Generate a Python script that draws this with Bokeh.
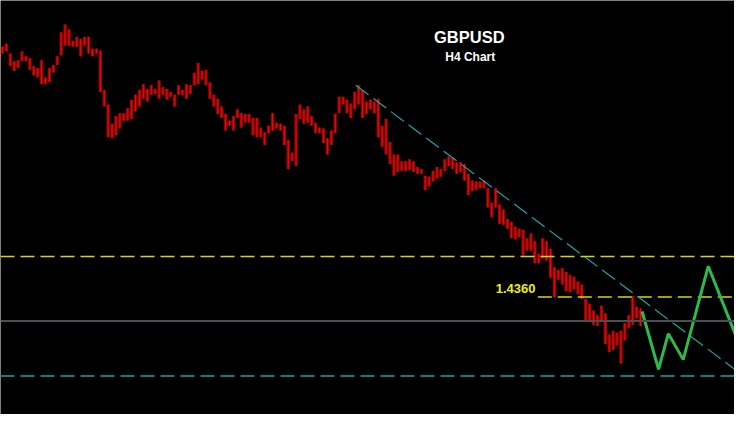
from bokeh.plotting import figure
from bokeh.models import Range1d, Label, ColumnDataSource, Span
from bokeh.embed import file_html
from bokeh.resources import INLINE

# GBPUSD H4 bars (high / low)
highs = [1.4620, 1.4623, 1.4613, 1.4605, 1.4606, 1.4615, 1.4610, 1.4608, 1.4600, 1.4598,
         1.4606, 1.4588, 1.4598, 1.4601, 1.4610, 1.4635, 1.4643, 1.4638, 1.4626, 1.4630,
         1.4628, 1.4630, 1.4630, 1.4618, 1.4618, 1.4616, 1.4575, 1.4560, 1.4540, 1.4548,
         1.4551, 1.4551, 1.4556, 1.4565, 1.4570, 1.4575, 1.4581, 1.4576, 1.4580, 1.4576,
         1.4585, 1.4578, 1.4576, 1.4573, 1.4570, 1.4580, 1.4575, 1.4581, 1.4580, 1.4593,
         1.4603, 1.4595, 1.4596, 1.4583, 1.4570, 1.4566, 1.4558, 1.4550, 1.4543, 1.4548,
         1.4555, 1.4551, 1.4550, 1.4550, 1.4546, 1.4546, 1.4536, 1.4531, 1.4538, 1.4551,
         1.4541, 1.4540, 1.4538, 1.4523, 1.4510, 1.4550, 1.4560, 1.4555, 1.4558, 1.4548,
         1.4541, 1.4536, 1.4535, 1.4525, 1.4533, 1.4550, 1.4568, 1.4568, 1.4565, 1.4561,
         1.4573, 1.4580, 1.4575, 1.4563, 1.4565, 1.4563, 1.4566, 1.4538, 1.4545, 1.4521,
         1.4508, 1.4508, 1.4501, 1.4501, 1.4503, 1.4501, 1.4495, 1.4493, 1.4486, 1.4485,
         1.4491, 1.4495, 1.4493, 1.4503, 1.4506, 1.4505, 1.4500, 1.4500, 1.4498, 1.4488,
         1.4481, 1.4480, 1.4480, 1.4481, 1.4473, 1.4458, 1.4473, 1.4456, 1.4451, 1.4441,
         1.4438, 1.4433, 1.4431, 1.4430, 1.4421, 1.4426, 1.4418, 1.4405, 1.4421, 1.4418,
         1.4410, 1.4391, 1.4388, 1.4390, 1.4386, 1.4383, 1.4381, 1.4376, 1.4373, 1.4358,
         1.4353, 1.4346, 1.4341, 1.4351, 1.4343, 1.4321, 1.4325, 1.4323, 1.4325, 1.4333,
         1.4341, 1.4361, 1.4350, 1.4348]
lows = [1.4613, 1.4615, 1.4600, 1.4595, 1.4598, 1.4605, 1.4605, 1.4596, 1.4590, 1.4588,
        1.4581, 1.4581, 1.4583, 1.4593, 1.4601, 1.4611, 1.4621, 1.4621, 1.4620, 1.4620,
        1.4610, 1.4621, 1.4613, 1.4610, 1.4613, 1.4573, 1.4558, 1.4526, 1.4525, 1.4528,
        1.4535, 1.4543, 1.4543, 1.4545, 1.4553, 1.4558, 1.4566, 1.4563, 1.4570, 1.4571,
        1.4566, 1.4570, 1.4565, 1.4568, 1.4558, 1.4570, 1.4570, 1.4566, 1.4571, 1.4580,
        1.4581, 1.4586, 1.4580, 1.4566, 1.4558, 1.4550, 1.4546, 1.4533, 1.4538, 1.4533,
        1.4546, 1.4536, 1.4541, 1.4541, 1.4528, 1.4526, 1.4526, 1.4518, 1.4530, 1.4533,
        1.4535, 1.4533, 1.4518, 1.4493, 1.4501, 1.4496, 1.4545, 1.4540, 1.4541, 1.4538,
        1.4530, 1.4530, 1.4520, 1.4508, 1.4518, 1.4530, 1.4551, 1.4560, 1.4551, 1.4546,
        1.4555, 1.4560, 1.4546, 1.4550, 1.4555, 1.4551, 1.4526, 1.4516, 1.4508, 1.4498,
        1.4486, 1.4490, 1.4491, 1.4491, 1.4492, 1.4490, 1.4488, 1.4488, 1.4471, 1.4475,
        1.4480, 1.4483, 1.4485, 1.4491, 1.4496, 1.4493, 1.4488, 1.4490, 1.4481, 1.4466,
        1.4470, 1.4471, 1.4473, 1.4473, 1.4453, 1.4443, 1.4453, 1.4436, 1.4435, 1.4431,
        1.4421, 1.4420, 1.4422, 1.4403, 1.4408, 1.4408, 1.4395, 1.4395, 1.4400, 1.4398,
        1.4380, 1.4360, 1.4378, 1.4373, 1.4366, 1.4365, 1.4368, 1.4363, 1.4358, 1.4335,
        1.4336, 1.4331, 1.4330, 1.4335, 1.4311, 1.4303, 1.4305, 1.4310, 1.4291, 1.4315,
        1.4328, 1.4331, 1.4338, 1.4330]
bar_index = list(range(len(highs)))

# Levels
resistance_upper = 1.4402
resistance_level = 1.4360
resistance_label = "1.4360"
current_price = 1.4335
support_level = 1.4278
level_1436_start = 136.75

# Trend line (bar index, price)
trend_x = [90.25, 190.0]
trend_y = [1.4580, 1.4276]

# Projected path (bar index, price)
proj_x = [163.4, 167.6, 170.1, 173.9, 180.3, 188.0]
proj_y = [1.4345, 1.4285, 1.4322, 1.4295, 1.4392, 1.4313]

title_text = "GBPUSD"
subtitle_text = "H4 Chart"

p = figure(width=734, height=414, output_backend="svg", toolbar_location=None,
           x_range=Range1d(-0.5, 187.0), y_range=Range1d(1.4238, 1.4668),
           background_fill_color="black", border_fill_color="black",
           min_border=0, min_border_left=0, min_border_right=0,
           min_border_top=0, min_border_bottom=0)
p.xaxis.visible = False
p.yaxis.visible = False
p.grid.visible = False
p.outline_line_color = None

src = ColumnDataSource(dict(x=bar_index, high=highs, low=lows))
p.vbar(x="x", top="high", bottom="low", width=0.85, source=src,
       fill_color="#9a0000", line_color=None)
p.segment(x0="x", y0="low", x1="x", y1="high", source=src,
          line_color="#ee0a0a", line_width=1)

# horizontal levels
p.add_layout(Span(location=resistance_upper, dimension="width", line_color="#d8d800",
                  line_width=1.5, line_dash="14 6"))
p.segment(x0=[level_1436_start], y0=[resistance_level], x1=[200], y1=[resistance_level],
          line_color="#d8d800", line_width=1.5, line_dash="14 6")
p.add_layout(Span(location=current_price, dimension="width", line_color="#4a4e55",
                  line_width=2))
p.add_layout(Span(location=support_level, dimension="width", line_color="#0a7f80",
                  line_width=2, line_dash="14 6"))

# trend line
p.line(trend_x, trend_y, line_color="#19a6a6", line_width=1.2, line_dash="16 6")

# projection
p.line(proj_x, proj_y, line_color="#2dba4a", line_width=3)

p.add_layout(Label(x=126.0, y=1.4369, text=resistance_label, text_color="#f0f000",
                   text_font="Liberation Sans", text_font_style="bold",
                   text_font_size="13px", text_baseline="middle", text_align="left"))
p.add_layout(Label(x=119.25, y=1.4630, text=title_text, text_color="white",
                   text_font="Liberation Sans", text_font_style="bold",
                   text_font_size="16.5px", text_baseline="middle", text_align="center"))
p.add_layout(Label(x=119.5, y=1.4609, text=subtitle_text, text_color="white",
                   text_font="Liberation Sans", text_font_style="bold",
                   text_font_size="12px", text_baseline="middle", text_align="center"))

open("out.html", "w").write(file_html(p, INLINE))
